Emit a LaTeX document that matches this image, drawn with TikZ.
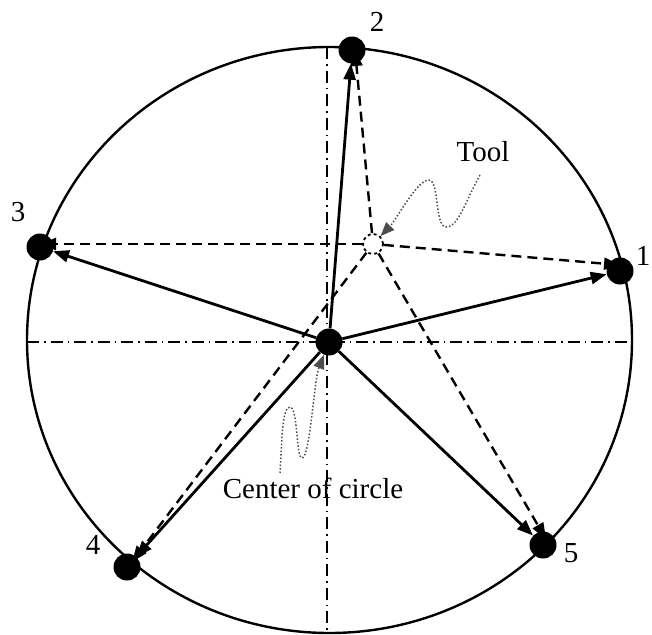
\documentclass[tikz,border=0pt]{standalone}
\usepackage{fontspec}
\setmainfont{Liberation Serif}
\usepackage{tikz}
\usetikzlibrary{arrows.meta,calc}
\tikzset{
    rim/.style={draw, line width=2.4pt},
    axisline/.style={line width=1.4pt, dash pattern=on 12pt off 5pt on 1.5pt off 5pt},
    hole/.style={
        circle, fill=black, inner sep=0pt, minimum size=27pt
    },
    toolpos/.style={
        circle, draw, dashed, line width=1.8pt, inner sep=0pt, minimum size=20pt
    },
    numlabel/.style={font=\fontsize{29}{34}\selectfont},
    textlabel/.style={font=\fontsize{29}{34}\selectfont},
    move/.style={-{Triangle[length=16pt,width=12pt]}, line width=2.8pt},
    toolmove/.style={-{Triangle[length=16pt,width=12pt]}, line width=2.4pt, dash pattern=on 10pt off 6pt},
    pointer/.style={-{Triangle[length=14pt,width=11pt]}, line width=1.5pt, dotted, black!70}
}

\begin{document}
\begin{tikzpicture}[x=1pt,y=-1pt]
\useasboundingbox (0,0) rectangle (652,634);

% Circle and centre lines
\draw[rim] (329.5,340) ellipse [x radius=302.5, y radius=293];
\draw[axisline] (27,342) -- (632,342);
\draw[axisline] (327,47) -- (327,634);

% Holes on the circle
\node[hole] (c)  at (329,342) {};
\node[hole] (p1) at (620,271) {};
\node[hole] (p2) at (352,50)  {};
\node[hole] (p3) at (40,247)  {};
\node[hole] (p4) at (127,567) {};
\node[hole] (p5) at (543,545) {};
\node[toolpos] (tool) at (373,244) {};

% Numbers
\node[numlabel] (n1) at (643,256) {1};
\node[numlabel] (n2) at (377,22)  {2};
\node[numlabel] (n3) at (18,212)  {3};
\node[numlabel] (n4) at (93,545)  {4};
\node[numlabel] (n5) at (571,553) {5};

% Moves from the centre
\foreach \p in {p1,p2,p3,p4,p5}
    \draw[move] (c) -- (\p);

% Moves from the tool
\draw[toolmove] (tool) -- ($(p1)+(0,-6)$);
\draw[toolmove] (tool) -- ($(p2)+(3,0)$);
\draw[toolmove] (tool.west) -- ($(p3)+(0,-3)$);
\draw[toolmove] (tool) -- ($(p4)+(5,-5)$);
\draw[toolmove] (tool) -- ($(p5)+(3,-6)$);

% Texts and pointers
\node[textlabel] (toollabel) at (483,152) {Tool};
\node[textlabel] (centerlabel) at (313,488) {Center of circle};
\coordinate (toolstart) at (480,175);
\coordinate (centerstart) at (280,473);
\draw[pointer] (toolstart) .. controls (466,200) and (458,228) .. (446,227)
    .. controls (434,226) and (440,178) .. (428,180)
    .. controls (416,182) and (396,220) .. (tool);
\draw[pointer] (centerstart) .. controls (282,440) and (282,407) .. (290,407)
    .. controls (298,407) and (296,458) .. (302,458)
    .. controls (310,458) and (314,380) .. (c);

\end{tikzpicture}
\end{document}
